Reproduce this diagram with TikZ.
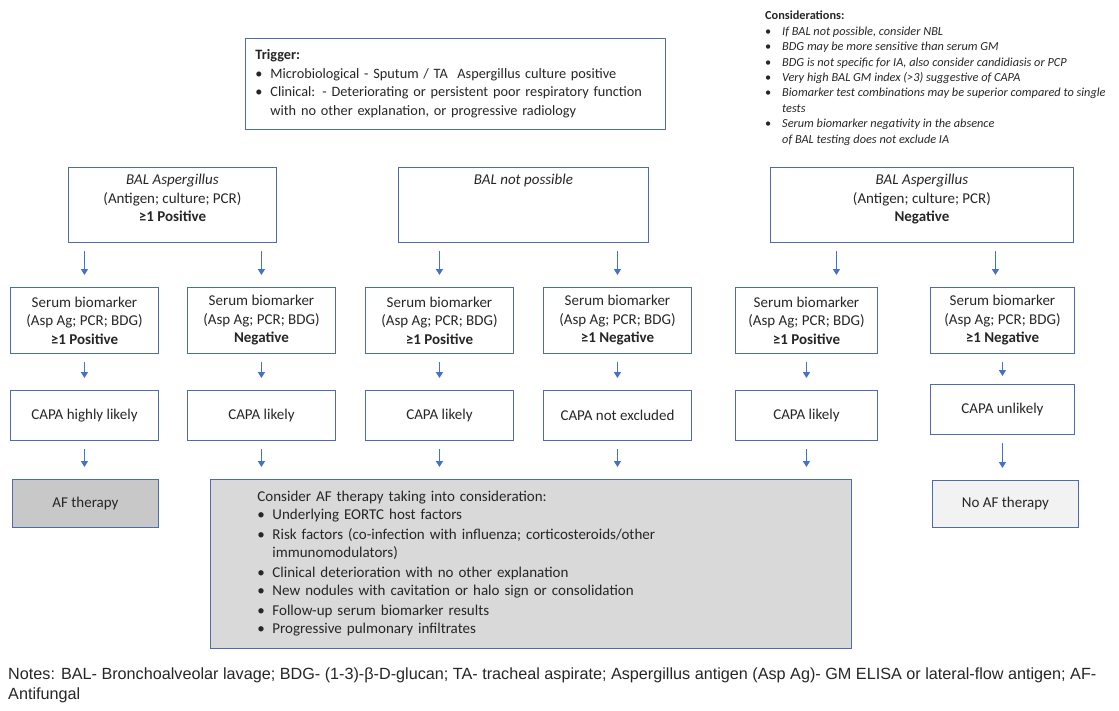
\documentclass[tikz,border=0pt]{standalone}
\usepackage{fontspec}
\setmainfont{Carlito}
\newfontfamily\notesfont{Liberation Sans}
\usetikzlibrary{arrows.meta, positioning}
\definecolor{boxblue}{RGB}{79, 108, 168}
\definecolor{arrowblue}{RGB}{68, 114, 196}
\definecolor{inkgray}{RGB}{38, 38, 38}
\definecolor{afgray}{RGB}{200, 200, 200}
\definecolor{considergray}{RGB}{217, 217, 217}
\definecolor{noafgray}{RGB}{242, 242, 242}
\hyphenpenalty=10000
\newcommand{\bull}{\makebox[15pt][l]{\textbullet}}
\newcommand{\smallbull}{\makebox[17pt][l]{\textbullet}}
\newcommand{\toptext}[3]{\parbox[c][#2][t]{#1}{\centering\vspace*{7pt}#3}}

\tikzset{
  box/.style={draw=boxblue, line width=0.9pt, inner sep=0pt, align=center, text=inkgray,
    anchor=north west, font=\fontsize{15}{18.5}\selectfont},
  flow/.style={draw=arrowblue, line width=1.4pt, -{Triangle[length=6pt, width=7pt]},
    shorten <=8pt, shorten >=12pt},
}

\begin{document}
\begin{tikzpicture}[x=1pt, y=-1pt]
  \useasboundingbox (0,0) rectangle (1119,710);

  % trigger and considerations
  \node[box, align=left, text width=400pt, inner xsep=10pt, minimum height=91pt,
        font=\fontsize{14.3}{18.5}\selectfont] (trigger) at (245,38) {
    \textbf{Trigger:}\\
    \bull Microbiological - Sputum / TA\ \ Aspergillus culture positive\\
    \bull Clinical: - Deteriorating or persistent poor respiratory function\\
    \hspace*{15pt}with no other explanation, or progressive radiology
  };
  \node[anchor=north west, align=left, inner sep=0pt, text=inkgray,
        font=\fontsize{12.3}{15.4}\selectfont] (consider) at (765,11) {
    \textbf{Considerations:}\\
    \smallbull\textit{If BAL not possible, consider NBL}\\
    \smallbull\textit{BDG may be more sensitive than serum GM}\\
    \smallbull\textit{BDG is not specific for IA, also consider candidiasis or PCP}\\
    \smallbull\textit{Very high BAL GM index (>3) suggestive of CAPA}\\
    \smallbull\textit{Biomarker test combinations may be superior compared to single}\\
    \hspace*{17pt}\textit{tests}\\
    \smallbull\textit{Serum biomarker negativity in the absence}\\
    \hspace*{17pt}\textit{of BAL testing does not exclude IA}
  };

  % BAL results
  \node[box] (balpos) at (68,167) {\toptext{208pt}{75pt}{\textit{BAL Aspergillus}\\(Antigen; culture; PCR)\\\textbf{≥1 Positive}}};
  \node[box] (balnot) at (398,167) {\toptext{250pt}{75pt}{\textit{BAL not possible}}};
  \node[box] (balneg) at (770,167) {\toptext{303pt}{75pt}{\textit{BAL Aspergillus}\\(Antigen; culture; PCR)\\\textbf{Negative}}};

  % serum biomarkers
  \node[box, minimum width=148pt, minimum height=66pt] (ser1) at (10,287) {Serum biomarker\\(Asp Ag; PCR; BDG)\\\textbf{≥1 Positive}};
  \node[box, minimum width=148pt, minimum height=66pt] (ser2) at (187,287) {Serum biomarker\\(Asp Ag; PCR; BDG)\\\textbf{Negative}};
  \node[box, minimum width=148pt, minimum height=66pt] (ser3) at (365,287) {Serum biomarker\\(Asp Ag; PCR; BDG)\\\textbf{≥1 Positive}};
  \node[box, minimum width=148pt, minimum height=66pt] (ser4) at (543,287) {Serum biomarker\\(Asp Ag; PCR; BDG)\\\textbf{≥1 Negative}};
  \node[box, minimum width=142pt, minimum height=66pt] (ser5) at (735,287) {Serum biomarker\\(Asp Ag; PCR; BDG)\\\textbf{≥1 Positive}};
  \node[box, minimum width=144pt, minimum height=66pt] (ser6) at (930,287) {Serum biomarker\\(Asp Ag; PCR; BDG)\\\textbf{≥1 Negative}};

  % CAPA likelihood
  \node[box, minimum width=148pt, minimum height=50pt] (capa1) at (10,390) {CAPA highly likely};
  \node[box, minimum width=148pt, minimum height=50pt] (capa2) at (187,390) {CAPA likely};
  \node[box, minimum width=148pt, minimum height=50pt] (capa3) at (365,390) {CAPA likely};
  \node[box, minimum width=148pt, minimum height=50pt] (capa4) at (543,390) {CAPA not excluded};
  \node[box, minimum width=142pt, minimum height=50pt] (capa5) at (735,390) {CAPA likely};
  \node[box, minimum width=144pt, minimum height=50pt] (capa6) at (930,384) {CAPA unlikely};

  % therapy
  \node[box, fill=afgray, minimum width=146pt, minimum height=48pt] (af) at (12,479) {AF therapy};
  \node[box, fill=considergray, align=left, text width=547pt, inner xsep=47pt, minimum height=169pt,
        font=\fontsize{15}{18}\selectfont] (afconsider) at (210,479) {
    Consider AF therapy taking into consideration:\\
    \bull Underlying EORTC host factors\\[2pt]
    \bull Risk factors (co-infection with influenza; corticosteroids/other\\
    \hspace*{15pt}immunomodulators)\\[2pt]
    \bull Clinical deterioration with no other explanation\\
    \bull New nodules with cavitation or halo sign or consolidation\\[2pt]
    \bull Follow-up serum biomarker results\\
    \bull Progressive pulmonary infiltrates
  };
  \node[box, fill=noafgray, minimum width=146pt, minimum height=47pt] (noaf) at (932,480) {No AF therapy};

  \node[anchor=north west, align=left, inner sep=0pt, text=inkgray,
        font=\notesfont\fontsize{16.2}{20}\selectfont] (notes) at (8,668) {
    Notes: BAL- Bronchoalveolar lavage; BDG- (1-3)-β-D-glucan; TA- tracheal aspirate; Aspergillus antigen (Asp Ag)- GM ELISA or lateral-flow antigen; AF-\\
    Antifungal
  };

  % arrows
  \draw[flow] (ser1.north |- balpos.south) -- (ser1.north);
  \draw[flow] (ser2.north |- balpos.south) -- (ser2.north);
  \draw[flow] (ser3.north |- balnot.south) -- (ser3.north);
  \draw[flow] (ser4.north |- balnot.south) -- (ser4.north);
  \draw[flow] ([xshift=-85.5pt]balneg.south) -- ([xshift=-85.5pt]balneg.south |- ser5.north);
  \draw[flow] ([xshift=73.5pt]balneg.south) -- ([xshift=73.5pt]balneg.south |- ser6.north);

  \draw[flow] (ser1) -- (capa1);
  \draw[flow] (ser2) -- (capa2);
  \draw[flow] (ser3) -- (capa3);
  \draw[flow] (ser4) -- (capa4);
  \draw[flow] (ser5) -- (capa5);
  \draw[flow, shorten >=8pt] (ser6.south) -- (ser6.south |- capa6.north);

  \draw[flow] (capa1.south) -- (capa1.south |- af.north);
  \draw[flow] (capa2.south) -- (capa2.south |- afconsider.north);
  \draw[flow] (capa3.south) -- (capa3.south |- afconsider.north);
  \draw[flow] (capa4.south) -- (capa4.south |- afconsider.north);
  \draw[flow] (capa5.south) -- (capa5.south |- afconsider.north);
  \draw[flow] (capa6.south) -- (capa6.south |- noaf.north);
\end{tikzpicture}
\end{document}
